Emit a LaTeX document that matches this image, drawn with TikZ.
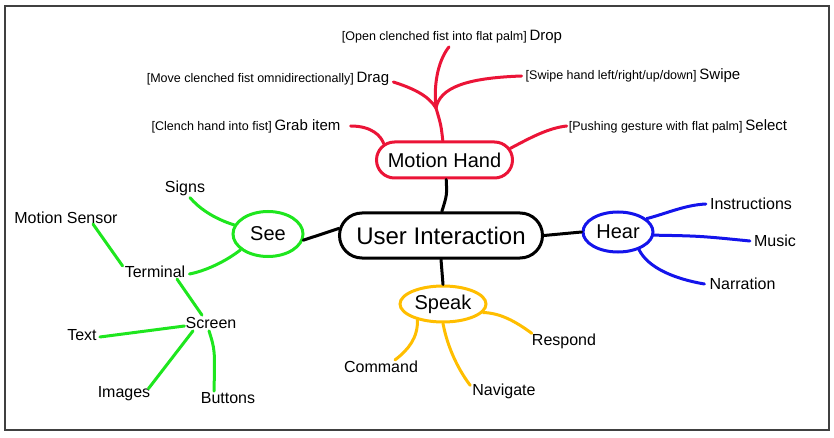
\documentclass[tikz,border=0pt]{standalone}
\usepackage{fontspec}
\setmainfont{Liberation Sans}
\usetikzlibrary{shapes.geometric,shapes.misc}
\definecolor{mapred}{RGB}{235,20,55}
\definecolor{mapgreen}{RGB}{30,230,30}
\definecolor{mapblue}{RGB}{20,20,235}
\definecolor{maporange}{RGB}{255,190,0}
\newcommand{\blobtxt}[1]{\makebox[0pt]{#1}}
\newcommand{\gest}[2]{{\fontsize{12.5}{15}\selectfont[#1]} {\fontsize{15}{18}\selectfont #2}}

\begin{document}
\begin{tikzpicture}[x=1pt,y=1pt,
    blob/.style={draw,ellipse,line width=3pt,inner sep=0pt,font=\fontsize{20}{24}\selectfont},
    longblob/.style={draw,rounded rectangle,line width=3pt,inner sep=0pt},
    leaf/.style={inner sep=0pt,font=\fontsize{16}{19}\selectfont},
    gesture/.style={inner sep=0pt},
    branch/.style={line width=3pt,line cap=round}]
  \useasboundingbox (0,0) rectangle (834,-438);
  \draw[black!75,line width=1.5pt] (5,-6) rectangle (829,-430);

  \node[longblob,minimum width=203,minimum height=45,font=\fontsize{24}{28}\selectfont] (ui) at (441,-235.5) {\blobtxt{User Interaction}};
  \node[longblob,mapred,text=black,minimum width=136,minimum height=36,font=\fontsize{20}{24}\selectfont] (mh) at (444.5,-160) {\blobtxt{Motion Hand}};
  \node[blob,mapgreen,text=black,minimum width=70,minimum height=45] (see) at (268,-234) {\blobtxt{See}};
  \node[blob,mapblue,text=black,minimum width=70,minimum height=40] (hear) at (618,-232) {\blobtxt{Hear}};
  \node[blob,maporange,text=black,minimum width=86,minimum height=36] (speak) at (443,-304) {\blobtxt{Speak}};

  \draw[branch] (mh.-85) .. controls (447,-195) .. (ui.88);
  \draw[branch] (see.-10) -- (ui.176);
  \draw[branch] (ui.east) -- (hear.west);
  \draw[branch] (ui.south) -- (speak.north);

  %%%%%%%%%% motion hand
  \node[gesture] (drop) at (452,-37) {\gest{Open clenched fist into flat palm}{Drop}};
  \node[gesture] (drag) at (268,-79) {\gest{Move clenched fist omnidirectionally}{Drag}};
  \node[gesture] (swipe) at (633,-76) {\gest{Swipe hand left/right/up/down}{Swipe}};
  \node[gesture] (grab) at (246,-126) {\gest{Clench hand into fist}{Grab item}};
  \node[gesture] (select) at (678,-126) {\gest{Pushing gesture with flat palm}{Select}};
  \coordinate (hj) at (436,-108);

  \draw[branch,mapred] (mh.95) .. controls (441,-125) .. (hj);
  \draw[branch,mapred] (hj) .. controls (433,-80) and (440,-58) .. ([xshift=-3pt,yshift=-3pt]drop.south);
  \draw[branch,mapred] ([xshift=4pt,yshift=-3pt]drag.east) .. controls (412,-88) and (428,-95) .. (hj);
  \draw[branch,mapred] (hj) .. controls (440,-88) and (465,-78) .. ([xshift=-4pt]swipe.west);
  \draw[branch,mapred] ([xshift=10pt]grab.east) .. controls (372,-126) and (381,-136) .. (mh.165);
  \draw[branch,mapred] (mh.10) .. controls (530,-138) and (548,-128) .. ([xshift=-2pt]select.west);

  %%%%%%%%%% see
  \node[leaf] (signs) at (185,-188) {Signs};
  \node[leaf] (msens) at (66,-218) {Motion Sensor};
  \node[leaf] (term) at (155,-272) {Terminal};
  \node[leaf] (screen) at (211,-323) {Screen};
  \node[leaf] (txt) at (82,-335) {Text};
  \node[leaf] (imgs) at (124,-394) {Images};
  \node[leaf] (btns) at (228,-398) {Buttons};

  \draw[branch,mapgreen] (see.165) .. controls (212,-218) and (198,-207) .. ([xshift=5pt,yshift=-2pt]signs.south);
  \draw[branch,mapgreen] (see.210) .. controls (225,-262) and (205,-271) .. ([xshift=4pt,yshift=-2pt]term.east);
  \draw[branch,mapgreen] ([xshift=27pt]msens.south) -- ([xshift=-2pt]term.north west);
  \draw[branch,mapgreen] ([xshift=22pt,yshift=-1pt]term.south) -- ([xshift=-9pt,yshift=2pt]screen.north);
  \draw[branch,mapgreen] ([xshift=3pt,yshift=-2pt]txt.east) -- ([xshift=-1pt,yshift=-3pt]screen.west);
  \draw[branch,mapgreen] ([xshift=-2pt,yshift=-2pt]imgs.north east) -- ([xshift=-18pt,yshift=-2pt]screen.south);
  \draw[branch,mapgreen] ([xshift=-14pt,yshift=1pt]btns.north) .. controls (215,-350) .. ([xshift=-2pt,yshift=-2pt]screen.south);

  %%%%%%%%%% hear
  \node[leaf] (instr) at (751,-204) {Instructions};
  \node[leaf] (music) at (775,-241) {Music};
  \node[leaf] (narr) at (742.5,-284) {Narration};

  \draw[branch,mapblue] (hear.25) .. controls (668,-213) and (685,-205) .. ([xshift=-4pt]instr.west);
  \draw[branch,mapblue] (hear.-5) .. controls (700,-236) .. ([xshift=-4pt]music.west);
  \draw[branch,mapblue] (hear.-40) .. controls (648,-268) and (675,-279) .. ([xshift=-5pt]narr.west);

  %%%%%%%%%% speak
  \node[leaf] (cmd) at (381,-367) {Command};
  \node[leaf] (nav) at (504,-391) {Navigate};
  \node[leaf] (resp) at (564,-341) {Respond};

  \draw[branch,maporange] (speak.212) .. controls (418,-338) and (408,-350) .. ([xshift=14pt,yshift=1pt]cmd.north);
  \draw[branch,maporange] (speak.south) .. controls (448,-350) and (460,-372) .. ([xshift=-2pt,yshift=-2pt]nav.north west);
  \draw[branch,maporange] (speak.-12) .. controls (500,-313) and (515,-321) .. (resp.north west);

\end{tikzpicture}
\end{document}
